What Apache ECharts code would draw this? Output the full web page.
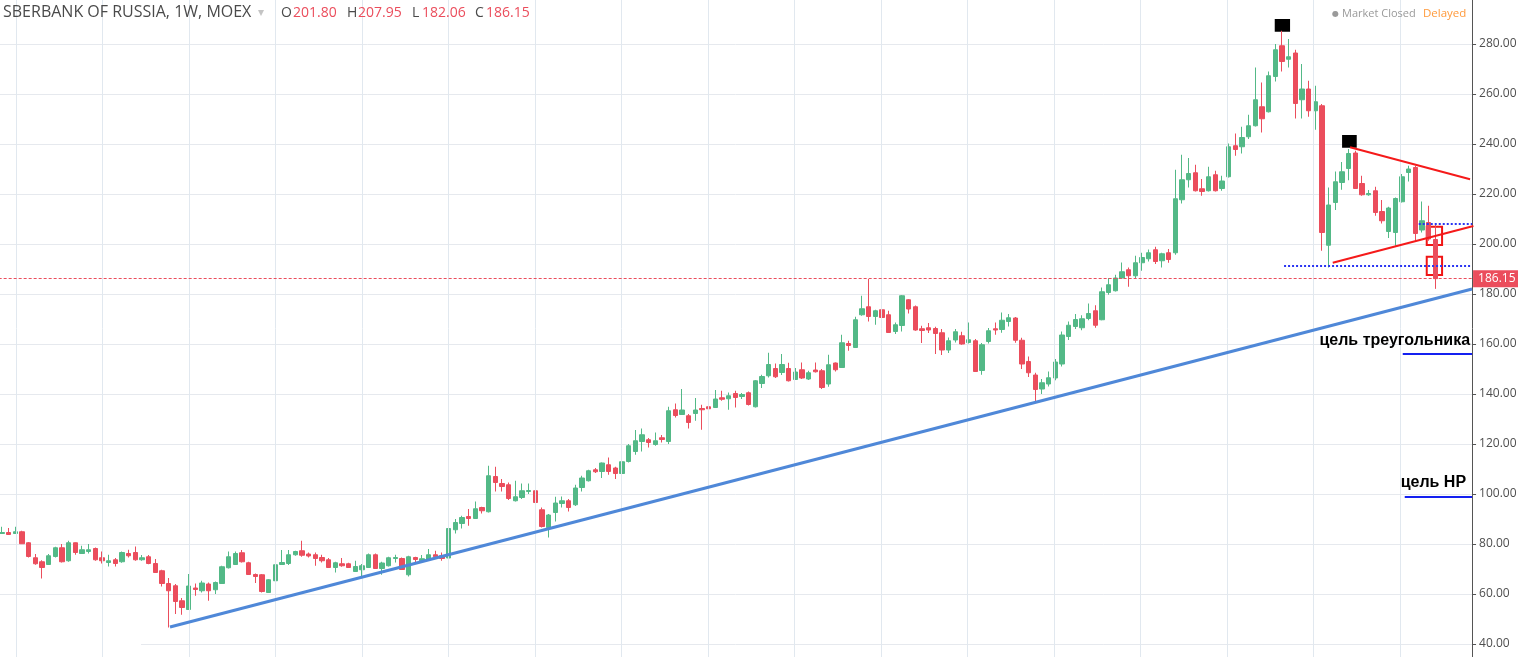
<!DOCTYPE html>
<html><head><meta charset="utf-8">
<script src="https://cdn.jsdelivr.net/npm/echarts@6/dist/echarts.min.js"></script>
<style>html,body{margin:0;padding:0;background:#fff;overflow:hidden}#c{width:1518px;height:657px}</style>
</head><body><div id="c"></div>
<script>
// ---- weekly OHLC, SBERBANK OF RUSSIA, 1W, MOEX ----
const opens = [
84.2,84.6,84.2,84.9,80.5,74.5,72.9,71.8,75.0,78.5, 73.3,80.5,76.2,77.0,78.2,74.5,72.6,73.7,72.9,76.2,
76.6,73.7,74.9,72.2,69.3,64.2,63.3,57.3,53.8,62.4, 61.3,64.0,61.7,64.2,70.5,71.8,76.5,72.5,67.8,67.7,
60.6,65.3,71.8,72.2,75.7,77.3,76.0,75.7,74.6,73.7, 70.6,72.1,72.1,69.0,69.7,70.6,75.7,70.2,71.3,74.2,
74.2,67.7,74.6,73.3,74.0,75.7,75.3,74.4,85.7,88.2, 91.0,90.2,94.6,92.9,107.0,104.2,103.7,97.3,98.6,101.0,
101.3,93.7,86.6,92.6,96.2,97.3,95.7,102.6,105.3,109.7, 109.0,111.7,110.4,108.2,113.0,117.0,121.0,121.7,119.8,122.5,
121.0,133.7,131.8,131.3,132.2,134.2,134.9,134.6,138.5,138.1, 140.2,139.0,140.5,134.9,144.2,147.3,150.2,148.6,150.2,145.8,
149.7,146.0,149.6,149.3,144.0,152.4,150.6,160.2,158.6,171.7, 174.9,171.0,173.7,171.7,165.0,167.4,177.7,174.9,166.1,166.5,
166.2,164.5,157.6,161.6,163.3,160.6,161.3,149.4,161.0,166.1, 165.8,169.0,170.4,161.5,153.0,147.6,142.0,144.0,146.4,152.0,
163.0,167.0,166.5,170.2,173.3,169.7,180.6,181.3,186.4,189.7, 187.3,192.5,194.1,197.7,193.3,196.5,196.5,217.7,225.7,228.5,
222.1,221.3,227.7,222.2,226.9,239.3,238.9,242.9,247.3,254.9, 252.9,267.0,279.3,273.9,276.4,257.7,262.0,253.3,255.3,199.5,
216.6,224.6,230.2,236.4,224.2,219.7,221.3,213.0,205.0,204.6, 216.9,228.6,230.6,205.6,208.6,201.80
];
const closes = [
84.6,83.8,84.9,80.1,75.0,72.1,70.6,75.3,78.5,72.9, 80.5,76.6,77.7,77.7,73.7,73.3,73.3,72.2,76.6,75.3,
73.7,74.5,72.2,68.6,64.2,61.3,57.0,54.6,63.2,61.8, 64.4,61.3,64.6,70.9,74.9,76.2,72.9,67.8,67.0,61.0,
65.7,71.7,72.6,75.7,77.0,75.5,75.2,74.2,73.3,70.6, 72.5,71.3,70.6,71.0,71.3,75.7,70.2,72.4,74.5,74.6,
69.8,74.9,73.8,74.1,75.7,74.9,74.2,86.2,88.6,90.6, 90.2,94.1,93.3,107.3,104.6,103.0,98.2,98.9,101.3,101.4,
96.6,87.0,91.6,96.4,97.3,94.6,102.4,106.4,109.3,108.9, 112.4,109.0,108.2,112.9,119.3,121.3,123.7,120.6,121.3,121.8,
133.3,131.4,133.6,128.6,133.6,133.7,134.1,138.0,137.9,139.3, 138.6,139.8,135.8,145.3,147.0,151.8,146.9,151.8,145.3,148.8,
146.4,148.5,148.9,142.6,151.7,149.7,160.5,159.4,169.7,174.1, 171.0,173.3,170.6,164.6,167.7,179.3,174.0,165.6,165.4,165.6,
164.2,157.6,161.3,164.9,160.0,161.7,149.0,159.7,165.3,165.6, 169.5,170.5,161.5,152.0,148.5,141.8,144.5,146.5,152.8,163.6,
167.5,169.8,170.1,172.2,167.5,180.9,183.7,186.4,188.9,187.3, 192.5,194.6,196.5,193.0,196.1,193.8,218.1,225.7,228.2,221.3,
221.0,226.9,221.3,225.2,238.9,237.8,242.6,247.3,257.7,250.1, 267.3,277.7,273.0,274.9,256.2,262.0,253.3,256.9,204.6,215.6,
224.9,228.9,236.2,222.2,219.7,220.2,212.6,209.3,214.4,218.2, 226.9,230.0,204.2,209.3,202.0,186.15
];
const lows = [
84.0,83.6,84.0,80.0,74.6,71.7,66.2,71.6,74.6,72.6, 72.9,75.7,76.0,76.2,73.3,72.2,71.0,71.0,72.5,74.6,
73.3,73.3,71.9,68.4,63.0,46.6,52.0,51.7,53.6,59.3, 60.6,57.3,60.0,64.0,70.2,71.6,72.6,67.6,64.4,60.6,
60.4,64.9,71.6,71.6,75.3,74.9,74.6,71.3,72.6,70.4, 68.6,70.9,70.4,68.8,67.0,70.4,70.0,67.7,71.0,72.6,
69.6,67.0,72.6,73.0,73.3,74.4,73.3,74.0,84.2,86.2, 87.3,90.0,92.2,92.6,101.0,101.0,97.6,97.0,98.0,100.0,
96.4,86.6,82.6,89.0,94.6,93.0,95.2,101.0,105.0,108.4, 106.4,107.7,106.0,106.6,112.6,115.7,117.0,118.6,119.3,120.6,
120.0,130.6,131.6,126.2,129.3,125.7,128.2,134.4,137.3,133.7, 134.6,138.0,135.4,134.6,142.4,146.6,146.4,147.6,145.0,145.6,
146.0,145.6,148.6,142.0,142.9,149.0,150.4,157.3,158.4,171.3, 169.0,167.7,170.4,164.4,164.0,165.0,172.2,165.3,160.4,164.4,
156.0,155.6,156.4,160.6,159.7,160.2,148.8,147.7,160.2,163.7, 164.5,167.0,160.5,150.0,146.8,136.8,140.0,143.0,145.5,151.0,
161.6,166.0,165.5,169.5,166.5,169.5,179.7,181.0,186.0,182.9, 186.4,189.3,193.0,192.0,190.6,192.5,195.7,216.2,222.6,221.0,
219.3,221.0,221.0,221.3,226.6,235.3,236.2,242.0,247.0,244.6, 252.6,265.0,269.0,270.6,250.2,250.2,250.9,245.7,197.3,190.6,
213.6,221.7,225.5,222.0,219.3,219.3,211.3,208.2,202.4,199.3, 216.6,225.0,201.3,204.6,201.3,182.06
];
const highs = [
86.9,86.4,86.9,85.3,80.8,76.0,73.5,76.0,78.9,80.0, 81.3,80.6,79.3,80.0,78.6,77.0,75.7,74.4,77.0,77.7,
79.0,75.6,75.6,74.0,69.7,66.4,64.0,58.4,68.0,64.2, 65.3,64.6,65.0,71.3,77.0,77.0,77.6,72.9,68.2,68.0,
66.0,72.6,77.6,77.6,77.3,81.3,76.6,76.6,75.7,74.4, 72.9,74.4,72.5,73.3,72.0,76.2,76.2,72.9,74.9,75.7,
74.6,75.3,74.9,75.6,78.0,77.3,76.6,86.6,90.0,91.3, 94.0,97.0,94.9,111.3,110.9,106.0,104.6,105.3,104.2,104.2,
102.0,94.6,92.0,98.9,99.0,98.0,103.7,107.3,109.7,110.4, 112.6,114.6,110.9,114.0,120.0,125.6,126.2,122.4,124.6,123.6,
134.9,136.2,142.0,132.0,138.4,135.7,135.7,141.6,141.3,140.6, 141.3,140.4,141.0,145.6,147.7,156.5,152.2,156.0,152.5,150.4,
152.6,149.3,152.6,150.0,155.7,152.6,163.7,161.3,170.9,179.3, 186.0,173.7,181.7,173.3,168.6,179.6,178.0,175.4,167.3,168.4,
166.9,166.0,162.6,166.0,164.9,168.6,162.0,160.4,166.4,168.6, 172.6,172.0,170.8,162.5,155.0,148.5,146.0,149.0,154.0,165.0,
169.0,172.0,171.5,176.2,175.5,182.6,186.4,187.7,192.6,190.6, 195.3,196.5,197.8,198.9,196.5,198.0,229.7,235.7,234.4,231.7,
226.0,230.9,229.3,227.3,240.2,244.2,246.9,251.7,270.6,264.6, 269.0,280.0,285.3,282.0,277.7,272.0,265.3,263.3,256.0,222.6,
229.0,232.8,238.0,237.3,227.3,221.6,222.9,217.6,214.9,218.6, 228.0,231.3,231.3,217.0,215.3,207.95
];
const futureSlots = 5;               // empty weeks to the right of the last bar
const weekStart = new Date(Date.UTC(2014, 5, 16));
const weeks = [];
for (let i = 0; i < opens.length + futureSlots; i++) {
  const d = new Date(weekStart.getTime() + i * 7 * 864e5);
  weeks.push(d.toISOString().slice(0, 10));
}
// price axis ticks
const priceMin = 20, priceMax = 300, priceStep = 20;
// quarter-start time grid, in bar units (first line and spacing)
const quarterFirst = 2.1, quarterStep = 12.975, quarterCount = 17;

// ---- drawn annotations (bar-index, price) ----
const supportLine = [[25.2, 46.8], [220.5, 182.0]];
const triangleTop = [[202.2, 238.7], [220.2, 225.9]];
const triangleBottom = [[199.6, 192.5], [220.7, 207.2]];
const dottedLevels = [
  { from: 212.5, to: 220.5, price: 208.3 },
  { from: 192.3, to: 220.5, price: 191.5 }
];
const targets = [
  { text: 'цель треугольника', from: 210.1, to: 220.5, price: 156.0 },
  { text: 'цель НР', from: 210.4, to: 220.5, price: 98.8 }
];
const targetLabelGaps = [[2, 5], [6, 6]];   // label styling (px)
const redBoxes = [
  [213.7, 206.9, 216.0, 199.6],
  [213.7, 194.9, 216.0, 187.6]
];
const blackMarks = [
  [190.9, 290.0, 193.2, 284.9],
  [201.0, 243.6, 203.2, 238.5]
];

const n = opens.length;
const ohlc = opens.map((o, i) => [o, closes[i], lows[i], highs[i]]);
const lastPrice = closes[n - 1];

const GREEN = '#53b987', RED = '#eb4d5c';
const bandW = 6.667;
const slots = weeks.length;
const gridLeft = 2.0 - bandW / 2;
const gridW = slots * bandW;
const pxPerUnit = 2.5;
const gridTop = 44 - (priceMax - 280) * pxPerUnit;
const gridH = (priceMax - priceMin) * pxPerUnit;

const chart = echarts.init(document.getElementById('c'), null, { renderer: 'canvas' });

function seg(points, color, width, type) {
  return {
    type: 'line', xAxisIndex: 1, yAxisIndex: 0, data: points, symbol: 'none', clip: false,
    silent: true, lineStyle: { color: color, width: width, type: type || 'solid' }, z: 5
  };
}

const quarterLines = [];
for (let k = 0; k < quarterCount; k++) quarterLines.push({ xAxis: quarterFirst + k * quarterStep });

const markLines = [];
dottedLevels.forEach(l => markLines.push([
  { coord: [l.from, l.price], lineStyle: { color: '#2a35f2', width: 2, type: [2, 2] }, label: { show: false } },
  { coord: [l.to, l.price] }
]));
targets.forEach((tg, k) => markLines.push([
  { coord: [tg.from, tg.price], lineStyle: { color: '#1420f0', width: 2, type: 'solid' },
    label: { show: true, position: 'insideEndTop', formatter: tg.text, distance: targetLabelGaps[k],
      fontFamily: '"Liberation Sans", Arial, sans-serif', fontWeight: 'bold', fontSize: 16, color: '#000' } },
  { coord: [tg.to, tg.price] }
]));

const areas = [];
redBoxes.forEach(b => areas.push([
  { coord: [b[0], b[1]], itemStyle: { color: 'rgba(0,0,0,0)', borderColor: '#f01515', borderWidth: 2 } },
  { coord: [b[2], b[3]] }
]));
blackMarks.forEach(b => areas.push([
  { coord: [b[0], b[1]], itemStyle: { color: '#000', borderWidth: 0 } },
  { coord: [b[2], b[3]] }
]));

const hdrFont = '"Open Sans", "DejaVu Sans", sans-serif';
function t(x, text, fill, size, y) {
  return { type: 'text', x: x, y: y, silent: true, z: 10,
    style: { text: text, fill: fill, font: size + 'px ' + hdrFont } };
}

chart.setOption({
  animation: false,
  backgroundColor: '#fff',
  grid: [
    { left: gridLeft, top: gridTop, width: gridW, height: gridH, outerBoundsMode: 'none', containLabel: false }
  ],
  xAxis: [
    { type: 'category', gridIndex: 0, data: weeks, boundaryGap: true, show: false },
    { type: 'value', gridIndex: 0, min: -0.5, max: slots - 0.5, show: false }
  ],
  yAxis: [
    { type: 'value', gridIndex: 0, position: 'right', min: priceMin, max: priceMax, interval: priceStep,
      axisLine: { show: true, onZero: false, lineStyle: { color: '#555', width: 1 } },
      axisTick: { show: true, length: 4, lineStyle: { color: '#555' } },
      axisLabel: { show: true, margin: 7, color: '#4e4e4e', fontSize: 12, fontFamily: hdrFont,
        formatter: v => v.toFixed(2) },
      splitLine: { show: true, lineStyle: { color: '#e6e9ee', width: 1 } } }
  ],
  series: [
    {
      type: 'line', xAxisIndex: 1, yAxisIndex: 0, data: [], symbol: 'none', silent: true, z: 1,
      markLine: { silent: true, symbol: ['none', 'none'], animation: false, label: { show: false },
        lineStyle: { color: '#e1e8ef', width: 1, type: 'solid' }, data: quarterLines }
    },
    {
      type: 'candlestick', xAxisIndex: 0, yAxisIndex: 0, data: ohlc, barWidth: '70%', clip: false,
      itemStyle: { color: GREEN, color0: RED, borderColor: GREEN, borderColor0: RED, borderWidth: 1 },
      markLine: {
        silent: true, symbol: ['none', 'none'], animation: false,
        lineStyle: { color: RED, width: 1, type: [3, 2] },
        label: { show: true, position: 'end', distance: 1, formatter: p => p.value.toFixed(2),
          backgroundColor: RED, color: '#fff', fontSize: 12, fontFamily: hdrFont,
          padding: [3, 8, 2, 5] },
        data: [{ yAxis: lastPrice }]
      }
    },
    seg(supportLine, '#4f88d8', 3),
    seg(triangleTop, '#f51a1a', 2),
    seg(triangleBottom, '#f51a1a', 2),
    {
      type: 'line', xAxisIndex: 1, yAxisIndex: 0, data: [], symbol: 'none', silent: true, z: 6,
      markLine: { silent: true, symbol: ['none', 'none'], animation: false, data: markLines },
      markArea: { silent: true, animation: false, data: areas }
    }
  ],
  graphic: [
    { type: 'rect', shape: { x: 0, y: 606, width: 141, height: 51 }, style: { fill: '#fff' }, z: 1.5, silent: true },
    t(3, 'SBERBANK OF RUSSIA, 1W, MOEX', '#4a4a4a', 16, 4),
    t(258, '▾', '#c4c4c4', 12, 7),
    t(281, 'O', '#4a4a4a', 14, 6), t(293, opens[n - 1].toFixed(2), RED, 14, 6),
    t(347, 'H', '#4a4a4a', 14, 6), t(358, highs[n - 1].toFixed(2), RED, 14, 6),
    t(412, 'L', '#4a4a4a', 14, 6), t(422, lows[n - 1].toFixed(2), RED, 14, 6),
    t(475, 'C', '#4a4a4a', 14, 6), t(486, closes[n - 1].toFixed(2), RED, 14, 6),
    t(1332, '●', '#9a9a9a', 8, 10),
    t(1342, 'Market Closed', '#9a9a9a', 11, 8),
    t(1423, 'Delayed', '#ff9a3c', 11.5, 8)
  ]
});
</script>
</body></html>
